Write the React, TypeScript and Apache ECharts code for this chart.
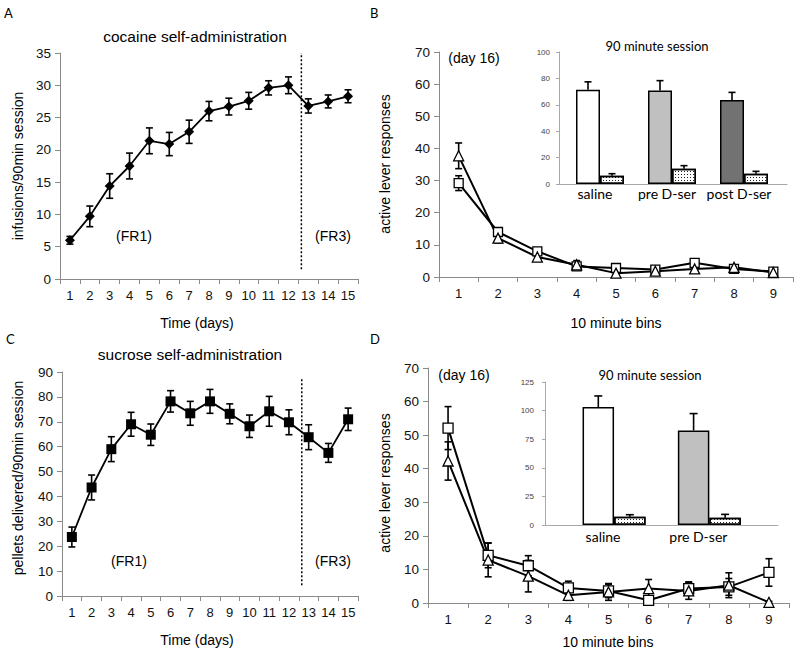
import React, { useEffect, useRef } from "react";
import * as echarts from "echarts";

// ---------- data ----------
const days = ["1", "2", "3", "4", "5", "6", "7", "8", "9", "10", "11", "12", "13", "14", "15"];
const cocaineMean = [6.0, 9.7, 14.4, 17.5, 21.4, 20.9, 22.8, 26.0, 26.7, 27.6, 29.6, 30.0, 26.8, 27.5, 28.3];
const cocaineSem = [0.6, 1.6, 1.9, 2.0, 2.0, 1.8, 1.8, 1.5, 1.3, 1.3, 1.1, 1.3, 1.1, 1.0, 1.0];
const sucroseMean = [23.7, 43.6, 59.0, 69.0, 64.8, 78.2, 73.4, 78.2, 73.2, 68.2, 74.2, 69.8, 63.8, 57.5, 71.0];
const sucroseSem = [4.0, 5.0, 5.0, 4.8, 4.3, 4.3, 4.8, 4.8, 4.0, 4.5, 6.0, 5.0, 5.0, 3.8, 4.5];
const phaseSplitA = [[12.65, 1.5], [12.65, 35]];
const phaseSplitC = [[12.65, 4.3], [12.65, 87.5]];

const bins = ["1", "2", "3", "4", "5", "6", "7", "8", "9"];
const bSquare = [29.2, 14.0, 8.0, 3.3, 2.8, 2.3, 4.4, 2.5, 1.7];
const bSquareSem = [2.3, 1.2, 1.0, 1.0, 0.6, 0.6, 0.8, 0.8, 0.5];
const bTriangle = [37.7, 12.1, 6.2, 3.8, 1.2, 1.8, 2.5, 3.0, 1.4];
const bTriangleSem = [4.0, 1.5, 1.0, 1.3, 0.5, 0.6, 0.6, 0.8, 0.5];
const dSquare = [52.1, 14.2, 11.1, 4.5, 3.6, 0.8, 4.3, 4.8, 9.1];
const dSquareSem = [6.4, 3.7, 3.0, 2.0, 2.0, 0.8, 2.0, 2.5, 4.1];
const dTriangle = [42.3, 12.8, 8.0, 2.3, 3.3, 4.3, 3.6, 5.3, 0.2];
const dTriangleSem = [5.7, 5.0, 4.7, 1.5, 2.5, 2.7, 2.5, 3.7, 0.3];

const insetBGroups = ["saline", "pre D-ser", "post D-ser"];
const insetBActive = [71.4, 70.9, 63.6];
const insetBActiveSem = [6.0, 7.4, 5.8];
const insetBInactive = [6.3, 11.6, 7.8];
const insetBInactiveSem = [1.5, 2.3, 1.8];
const insetBColors = ["#ffffff", "#c0c0c0", "#727272"];

const insetDGroups = ["saline", "pre D-ser"];
const insetDActive = [103.1, 82.6];
const insetDActiveSem = [9.7, 14.8];
const insetDInactive = [7.3, 6.4];
const insetDInactiveSem = [1.7, 2.9];
const insetDColors = ["#ffffff", "#c0c0c0"];

// ---------- style helpers ----------
const ARIAL = '"Liberation Sans", Arial, sans-serif';
const CALIBRI = 'Lato, "Open Sans", sans-serif';
const AXIS_GREY = "#8a8a8a";

function mainX(gridIndex: number, data: string[]) {
  return {
    type: "category",
    gridIndex,
    data,
    boundaryGap: true,
    axisLine: { show: true, lineStyle: { color: AXIS_GREY, width: 1 } },
    axisTick: { show: true, length: 5, alignWithLabel: false, lineStyle: { color: AXIS_GREY } },
    axisLabel: { color: "#111", fontSize: 13, fontFamily: ARIAL, margin: 10, interval: 0 },
    splitLine: { show: false },
  };
}
function mainY(gridIndex: number, max: number, interval: number) {
  return {
    type: "value",
    gridIndex,
    min: 0,
    max,
    interval,
    axisLine: { show: true, lineStyle: { color: AXIS_GREY, width: 1 } },
    axisTick: { show: true, length: 5, lineStyle: { color: AXIS_GREY } },
    axisLabel: { color: "#111", fontSize: 13.5, fontFamily: ARIAL, margin: 9 },
    splitLine: { show: false },
  };
}
function hiddenValueX(gridIndex: number, min: number, max: number) {
  return { type: "value", gridIndex, min, max, show: false };
}
function insetY(gridIndex: number, max: number, interval: number, margin: number) {
  return {
    type: "value",
    gridIndex,
    min: 0,
    max,
    interval,
    axisLine: { show: true, lineStyle: { color: "#a8a8a8", width: 1 } },
    axisTick: { show: true, length: 3, lineStyle: { color: "#a8a8a8" } },
    axisLabel: { color: "#444", fontSize: 8, fontFamily: ARIAL, margin },
    splitLine: { show: false },
  };
}
function hiddenY(gridIndex: number, max: number) {
  return { type: "value", gridIndex, min: 0, max, show: false };
}
function insetBarX(gridIndex: number, data: string[], margin: number, shift: number) {
  return {
    type: "category",
    gridIndex,
    data,
    axisLine: { show: false },
    axisTick: { show: false },
    axisLabel: {
      color: "#000", fontSize: 14, fontFamily: CALIBRI, margin,
      interval: 0, hideOverlap: false, padding: [0, shift, 0, 0],
    },
  };
}

function errRender(offset: number, cap: number, upOnly: boolean, lw: number) {
  return (params: any, api: any) => {
    const i = api.value(0);
    const lo = api.value(1);
    const hi = api.value(2);
    const top = api.coord([i, hi]);
    const bot = api.coord([i, lo]);
    const x = top[0] + offset;
    const style = { stroke: "#000", lineWidth: lw };
    const children: any[] = [
      { type: "line", shape: { x1: x, y1: top[1], x2: x, y2: bot[1] }, style },
      { type: "line", shape: { x1: x - cap / 2, y1: top[1], x2: x + cap / 2, y2: top[1] }, style },
    ];
    if (!upOnly) {
      children.push({ type: "line", shape: { x1: x - cap / 2, y1: bot[1], x2: x + cap / 2, y2: bot[1] }, style });
    }
    return { type: "group", children };
  };
}

function errSeries(xi: number, yi: number, mean: number[], sem: number[], opts: { offset?: number; cap?: number; upOnly?: boolean; lw?: number } = {}) {
  const upOnly = !!opts.upOnly;
  return {
    type: "custom",
    xAxisIndex: xi,
    yAxisIndex: yi,
    z: 1,
    silent: true,
    renderItem: errRender(opts.offset ?? 0, opts.cap ?? 7, upOnly, opts.lw ?? 1.5),
    encode: { x: 0, y: [1, 2] },
    data: mean.map((m, i) => [i, upOnly ? m : m - sem[i], m + sem[i]]),
  };
}

function lineSeries(xi: number, yi: number, data: number[], symbol: string, size: number, filled: boolean, lw: number) {
  return {
    type: "line",
    xAxisIndex: xi,
    yAxisIndex: yi,
    z: 3,
    data,
    symbol,
    symbolSize: size,
    showSymbol: true,
    lineStyle: { color: "#000", width: lw },
    itemStyle: filled
      ? { color: "#000", borderColor: "#000", borderWidth: 0 }
      : { color: "#fff", borderColor: "#000", borderWidth: 1.3 },
    silent: true,
  };
}

const dots = {
  symbol: "rect",
  symbolSize: 1,
  color: "#222",
  dashArrayX: [1, 1.6],
  dashArrayY: [1, 1.4],
  rotation: 0,
};

function barSeries(xi: number, yi: number, data: number[], colors: string[] | null, width: number, dotted: boolean) {
  return {
    type: "bar",
    xAxisIndex: xi,
    yAxisIndex: yi,
    barWidth: width,
    barGap: "0%",
    z: 2,
    silent: true,
    data: data.map((v, i) => ({
      value: v,
      itemStyle: {
        color: colors ? colors[i] : "#ffffff",
        borderColor: "#000",
        borderWidth: 1.5,
        ...(dotted ? { decal: dots } : {}),
      },
    })),
  };
}

function txt(text: string, x: number, y: number, size: number, family: string, opts: any = {}) {
  return {
    type: "text",
    x,
    y,
    rotation: opts.rotation ?? 0,
    silent: true,
    style: {
      text,
      font: `${size}px ${family}`,
      fill: opts.fill ?? "#000",
      textAlign: opts.align ?? "center",
      textVerticalAlign: "middle",
    },
  };
}

export default function App() {
  const ref = useRef<HTMLDivElement>(null);
  useEffect(() => {
    if (!ref.current) return;
    const chart = echarts.init(ref.current, null, { renderer: "svg" });

    const option: any = {
      animation: false,
      backgroundColor: "#ffffff",
      grid: [
        { left: 60, top: 53, width: 298, height: 226 }, // 0 A
        { left: 439, top: 52, width: 354, height: 225 }, // 1 B main
        { left: 559, top: 52, width: 228, height: 132 }, // 2 B inset axes
        { left: 564, top: 52, width: 216, height: 132 }, // 3 B inset bars
        { left: 62, top: 372, width: 296, height: 224 }, // 4 C
        { left: 428, top: 368, width: 361, height: 235 }, // 5 D main
        { left: 545, top: 382, width: 233, height: 143 }, // 6 D inset axes
        { left: 566.4, top: 382, width: 190.6, height: 143 }, // 7 D inset bars
      ],
      xAxis: [
        mainX(0, days), // 0
        hiddenValueX(0, 0.5, 15.5), // 1
        mainX(1, bins), // 2
        {
          type: "category", gridIndex: 2, data: [""],
          axisLine: { show: true, lineStyle: { color: "#a8a8a8" } },
          axisTick: { show: false }, axisLabel: { show: false },
        }, // 3
        insetBarX(3, insetBGroups, 2, 10), // 4
        mainX(4, days), // 5
        hiddenValueX(4, 0.5, 15.5), // 6
        mainX(5, bins), // 7
        {
          type: "category", gridIndex: 6, data: [""],
          axisLine: { show: true, lineStyle: { color: "#a8a8a8" } },
          axisTick: { show: false }, axisLabel: { show: false },
        }, // 8
        insetBarX(7, insetDGroups, 4, 22), // 9
      ],
      yAxis: [
        mainY(0, 35, 5), // 0
        mainY(1, 70, 10), // 1
        insetY(2, 100, 20, 9), // 2
        hiddenY(3, 100), // 3
        mainY(4, 90, 10), // 4
        mainY(5, 70, 10), // 5
        insetY(6, 125, 25, 11), // 6
        hiddenY(7, 125), // 7
      ],
      series: [
        // Panel A
        errSeries(0, 0, cocaineMean, cocaineSem, { cap: 7, lw: 1.6 }),
        lineSeries(0, 0, cocaineMean, "diamond", 10, true, 1.8),
        {
          type: "line", xAxisIndex: 1, yAxisIndex: 0, data: phaseSplitA, symbol: "none", silent: true,
          lineStyle: { color: "#000", width: 1.5, type: [2, 2] },
        },
        // Panel B main
        errSeries(2, 1, bSquare, bSquareSem, { cap: 7, lw: 1.6 }),
        errSeries(2, 1, bTriangle, bTriangleSem, { cap: 7, lw: 1.6 }),
        lineSeries(2, 1, bSquare, "rect", 9, false, 2),
        lineSeries(2, 1, bTriangle, "triangle", 10, false, 2),
        // Panel B inset
        barSeries(4, 3, insetBActive, insetBColors, 24, false),
        barSeries(4, 3, insetBInactive, null, 24, true),
        errSeries(4, 3, insetBActive, insetBActiveSem, { offset: -12, cap: 7, upOnly: true, lw: 1.6 }),
        errSeries(4, 3, insetBInactive, insetBInactiveSem, { offset: 12, cap: 7, upOnly: true, lw: 1.6 }),
        // Panel C
        errSeries(5, 4, sucroseMean, sucroseSem, { cap: 7, lw: 1.6 }),
        lineSeries(5, 4, sucroseMean, "rect", 10, true, 1.8),
        {
          type: "line", xAxisIndex: 6, yAxisIndex: 4, data: phaseSplitC, symbol: "none", silent: true,
          lineStyle: { color: "#000", width: 1.5, type: [2, 2] },
        },
        // Panel D main
        errSeries(7, 5, dSquare, dSquareSem, { cap: 7, lw: 1.6 }),
        errSeries(7, 5, dTriangle, dTriangleSem, { cap: 7, lw: 1.6 }),
        lineSeries(7, 5, dSquare, "rect", 10, false, 2),
        lineSeries(7, 5, dTriangle, "triangle", 10, false, 2),
        // Panel D inset
        barSeries(9, 7, insetDActive, insetDColors, 31.5, false),
        barSeries(9, 7, insetDInactive, null, 31.5, true),
        errSeries(9, 7, insetDActive, insetDActiveSem, { offset: -15.75, cap: 8, upOnly: true, lw: 1.6 }),
        errSeries(9, 7, insetDInactive, insetDInactiveSem, { offset: 15.75, cap: 8, upOnly: true, lw: 1.6 }),
      ],
      graphic: [
        txt("A", 4, 13, 13, CALIBRI, { align: "left" }),
        txt("B", 370, 13, 13, CALIBRI, { align: "left" }),
        txt("C", 6, 339, 13, CALIBRI, { align: "left" }),
        txt("D", 370, 339, 13, CALIBRI, { align: "left" }),
        txt("cocaine self-administration", 195, 36, 15.5, ARIAL),
        txt("sucrose self-administration", 190, 354, 15.5, ARIAL),
        txt("infusions/90min session", 18, 166, 14, ARIAL, { rotation: Math.PI / 2 }),
        txt("pellets delivered/90min session", 18, 478, 14, ARIAL, { rotation: Math.PI / 2 }),
        txt("active lever responses", 385, 164, 14, ARIAL, { rotation: Math.PI / 2 }),
        txt("active lever responses", 385, 483, 14, ARIAL, { rotation: Math.PI / 2 }),
        txt("Time (days)", 197, 323, 14, ARIAL),
        txt("Time (days)", 197, 640, 14, ARIAL),
        txt("10 minute bins", 616, 323, 14, ARIAL),
        txt("10 minute bins", 608, 642, 14, ARIAL),
        txt("(FR1)", 134, 236, 14, ARIAL),
        txt("(FR3)", 333, 236, 14, ARIAL),
        txt("(FR1)", 129, 561, 14, ARIAL),
        txt("(FR3)", 333, 561, 14, ARIAL),
        txt("(day 16)", 474, 58, 14, ARIAL),
        txt("(day 16)", 464, 375, 14, ARIAL),
        txt("90 minute session", 657, 46, 13, CALIBRI),
        txt("90 minute session", 650, 375, 13, CALIBRI),
      ],
    };

    chart.setOption(option);
    return () => chart.dispose();
  }, []);

  return (
    <div
      ref={ref}
      style={{ position: "absolute", left: 0, top: 0, width: 800, height: 654, background: "#fff" }}
    />
  );
}
